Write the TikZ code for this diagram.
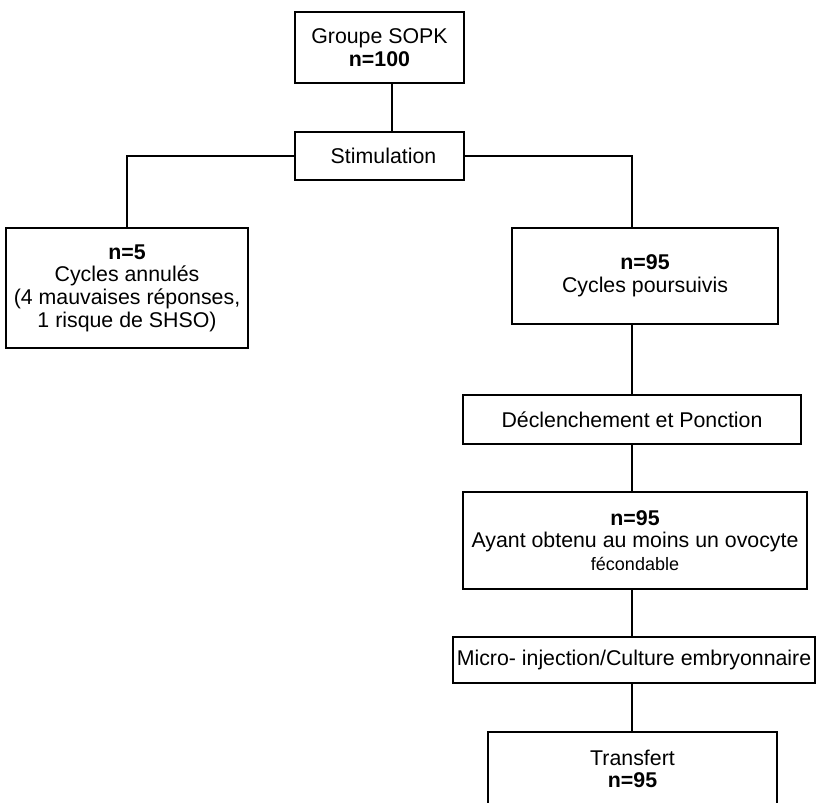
\documentclass[tikz,border=0pt]{standalone}
\usepackage{fontspec}
\setmainfont{Liberation Sans}
\usetikzlibrary{calc}
\usetikzlibrary{positioning}

\begin{document}
\begin{tikzpicture}[x=0.75pt, y=-0.75pt, line width=1.5pt,
        box/.style={draw=black, align=center, inner sep=1pt, font=\fontsize{16}{17}\selectfont}]
                \useasboundingbox (0, 0) rectangle (816, 802);
                \clip (0, 0) rectangle (816, 802);
                \node[box, minimum width=126.75pt, minimum height=53.25pt] (sopk) at (379.5, 47.5) {Groupe SOPK\\\textbf{n=100}};
                \node[box, minimum width=126.75pt, minimum height=36pt] (stim) at (379.5, 156) {\hspace{6pt}Stimulation};
                \node[box, minimum width=181.5pt, minimum height=90pt] (annul) at (127, 288) {\textbf{n=5}\\Cycles annulés\\(4 mauvaises réponses,\\1 risque de SHSO)};
                \node[box, minimum width=199.5pt, minimum height=72pt] (pours) at (645, 276) {\textbf{n=95}\\Cycles poursuivis};
                \node[box, minimum width=253.5pt, minimum height=36.75pt] (decl) at (632, 419.5) {Déclenchement et Ponction};
                \node[box, minimum width=258pt, minimum height=72.75pt] (ovo) at (635, 540.5) {\textbf{n=95}\\Ayant obtenu au moins un ovocyte\\{\fontsize{13.5}{15}\selectfont fécondable}};
                \node[box, minimum width=271.5pt, minimum height=34.5pt] (micro) at (634, 660) {Micro- injection/Culture embryonnaire};
                \node[box, minimum width=216.75pt, minimum height=56pt] (transf) at (632.5, 769) {Transfert\\\textbf{n=95}};
                % connectors
                \draw ([xshift=9.4pt]sopk.south) -- ([xshift=9.4pt]stim.north);
                \draw (stim.west) -| (annul.north);
                \draw (stim.east) -| ([xshift=-9.75pt]pours.north);
                \draw (decl.north |- pours.south) -- (decl.north);
                \draw (decl.south) -- (decl.south |- ovo.north);
                \draw (decl.south |- ovo.south) -- (decl.south |- micro.north);
                \draw (decl.south |- micro.south) -- (decl.south |- transf.north);
            \end{tikzpicture}
\end{document}
